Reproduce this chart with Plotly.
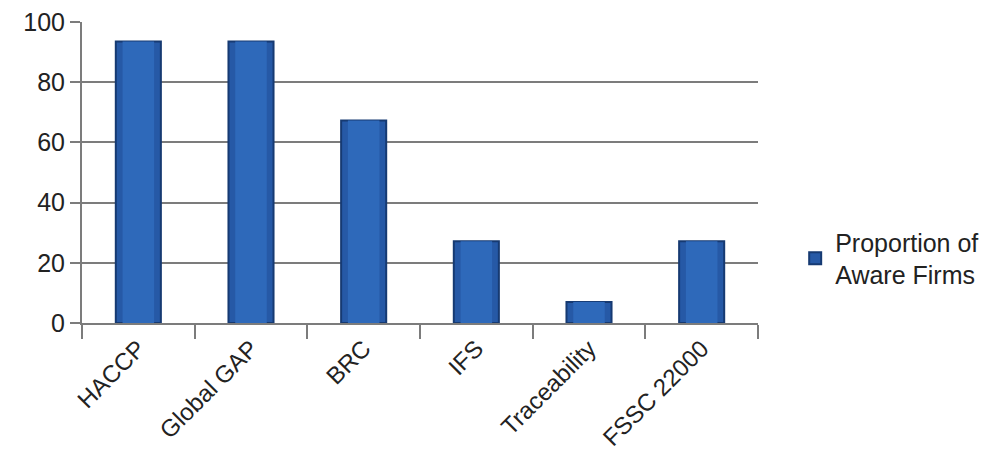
import plotly.graph_objects as go

categories = ["HACCP", "Global GAP", "BRC", "IFS", "Traceability", "FSSC 22000"]
values = [93.5, 93.5, 67.3, 27.2, 7.0, 27.2]
series_name = "Proportion of<br>Aware Firms"
y_ticks = [0, 20, 40, 60, 80, 100]

font_family = "Liberation Sans, Arial, sans-serif"
grid_col = "#7c7c7c"

fig = go.Figure()
fig.add_trace(go.Bar(
    x=categories, y=values, name=series_name,
    marker=dict(color="#2659a6", line=dict(color="#163a72", width=2)),
    width=0.4,
))
# lighter centre band to mimic the shaded bar look
fig.add_trace(go.Bar(
    x=categories, y=values, showlegend=False, hoverinfo="skip",
    marker=dict(color="#2e69ba", line=dict(width=0)),
    width=0.28,
))

fig.update_layout(
    width=998, height=458, barmode="overlay",
    margin=dict(l=82, r=240, t=22, b=135, autoexpand=False),
    paper_bgcolor="white", plot_bgcolor="white",
    font=dict(family=font_family, size=25, color="#222222"),
    showlegend=True,
    legend=dict(x=1.055, y=0.215, xanchor="left", yanchor="middle",
                font=dict(size=25, color="#222222"), bgcolor="rgba(0,0,0,0)"),
    xaxis=dict(
        tickangle=-45, tickson="boundaries", ticks="outside", ticklen=14,
        tickwidth=2, tickcolor=grid_col, showline=True, linecolor=grid_col,
        linewidth=2, showgrid=False, tickfont=dict(size=24), automargin=False,
    ),
    yaxis=dict(
        range=[0, 100], tickvals=y_ticks, ticks="outside", ticklen=10,
        tickwidth=2, tickcolor=grid_col, showline=True, linecolor=grid_col,
        linewidth=2, showgrid=True, gridcolor=grid_col, gridwidth=2,
        zeroline=False, tickfont=dict(size=25), automargin=False,
    ),
)

fig.write_html("out.html")
